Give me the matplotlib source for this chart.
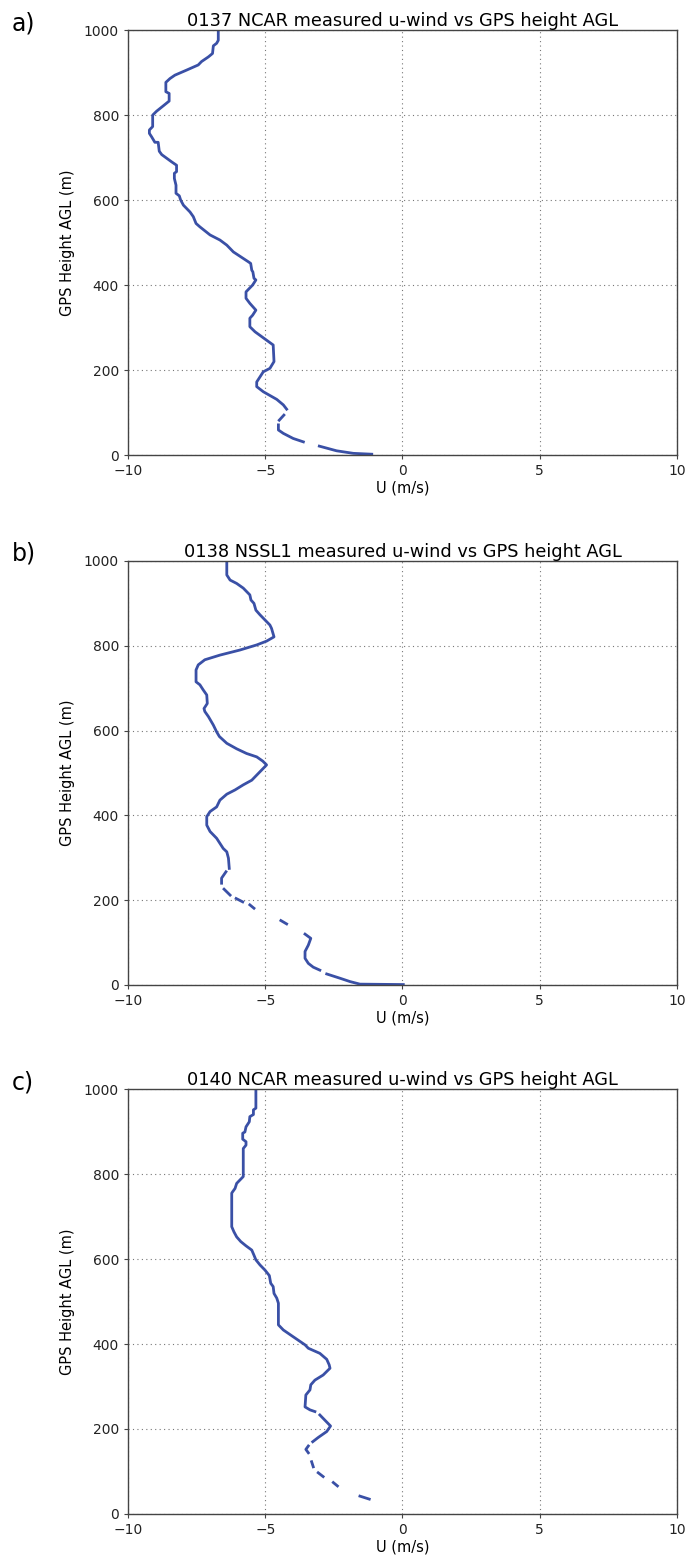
import matplotlib
matplotlib.use('Agg')
import matplotlib.pyplot as plt
import numpy as np

nan = np.nan

# 0137 NCAR
h_a = [1000, 976, 969, 963, 945, 937, 926, 918, 906, 894, 886, 877, 855, 851, 833, 822,
       809, 800, 773, 765, 757, 749, 736, 736, 715, 707, 690, 682, 667, 663, 651, 635,
       616, 610, 600, 588, 572, 561, 545, 537, 518, 506, 494, 478, 455, 451, 435, 431,
       416, 412, 400, 384, 369, 357, 341, 329, 322, 302, 290, 259, 220, 204, 196, 184,
       172, 161, 149, 131, 118, 108, 101, 94, 82, 76, 71, 59, 51, 39, 31, 26, 21, 10, 4, 2]
u_a = [-6.71, -6.71, -6.77, -6.89, -6.92, -7.07, -7.32, -7.44, -7.86, -8.29, -8.47, -8.62,
       -8.62, -8.50, -8.50, -8.71, -8.96, -9.10, -9.10, -9.22, -9.22, -9.14, -9.02, -8.90,
       -8.86, -8.77, -8.41, -8.23, -8.23, -8.31, -8.31, -8.25, -8.25, -8.13, -8.08, -7.98,
       -7.74, -7.62, -7.52, -7.38, -7.01, -6.65, -6.40, -6.16, -5.62, -5.53, -5.49, -5.45,
       -5.41, -5.34, -5.46, -5.70, -5.70, -5.56, -5.34, -5.46, -5.56, -5.56, -5.37, -4.71,
       -4.68, -4.83, -5.07, -5.19, -5.31, -5.31, -5.07, -4.58, -4.34, -4.22, nan, -4.32,
       -4.49, nan, -4.52, -4.52, -4.34, -3.98, -3.61, nan, -3.03, -2.40, -1.79, -1.12]

# 0138 NSSL1
h_b = [1000, 967, 955, 947, 936, 920, 908, 900, 884, 873, 861, 849, 841, 821, 811, 802,
       790, 778, 767, 755, 743, 715, 708, 696, 684, 664, 652, 645, 633, 613, 597, 586,
       570, 557, 546, 538, 528, 519, 507, 495, 483, 472, 460, 450, 436, 420, 409, 397,
       377, 362, 346, 334, 322, 314, 299, 275, 271, 267, 252, 240, 233, 226, 212, 208,
       204, 196, 192, 189, 181, 166, 152, 144, 132, 120, 110, 94, 79, 63, 51, 42, 35, 30,
       26, 16, 8, 2, 1]
u_b = [-6.40, -6.40, -6.28, -6.04, -5.80, -5.56, -5.52, -5.41, -5.34, -5.19, -5.01, -4.83,
       -4.77, -4.68, -4.95, -5.31, -5.92, -6.65, -7.20, -7.44, -7.52, -7.52, -7.38, -7.26,
       -7.13, -7.11, -7.23, -7.20, -7.07, -6.89, -6.77, -6.67, -6.40, -6.04, -5.68, -5.31,
       -5.09, -4.95, -5.13, -5.31, -5.49, -5.80, -6.10, -6.40, -6.65, -6.77, -7.01, -7.13,
       -7.13, -7.01, -6.77, -6.65, -6.53, -6.40, -6.34, -6.31, nan, -6.43, -6.59, -6.59,
       nan, -6.50, -6.28, nan, -6.06, -5.82, nan, -5.56, -5.41, nan, -4.43, -4.22, nan,
       -3.55, -3.34, -3.43, -3.55, -3.55, -3.43, -3.25, -3.01, nan, -2.76, -2.28, -1.91,
       -1.55, 0.03]

# 0140 NCAR
h_c = [1000, 955, 951, 940, 935, 923, 911, 899, 896, 882, 876, 868, 860, 794, 786, 778,
       766, 758, 755, 676, 664, 652, 641, 631, 621, 609, 598, 586, 574, 561, 543, 535,
       519, 508, 496, 445, 433, 417, 398, 390, 378, 364, 351, 343, 327, 315, 304, 292,
       280, 252, 245, 241, 237, 233, 207, 194, 180, 170, 165, 160, 152, 144, 133, 123,
       111, 104, 97, 88, 81, 74, 66, 54, 42, 35]
u_c = [-5.34, -5.34, -5.43, -5.43, -5.56, -5.58, -5.70, -5.74, -5.82, -5.82, -5.70, -5.70,
       -5.80, -5.80, -5.92, -6.04, -6.10, -6.19, -6.22, -6.22, -6.14, -6.04, -5.89, -5.70,
       -5.49, -5.41, -5.34, -5.19, -5.01, -4.85, -4.80, -4.71, -4.68, -4.58, -4.52, -4.52,
       -4.34, -3.98, -3.55, -3.43, -3.01, -2.76, -2.67, -2.64, -2.89, -3.19, -3.34, -3.37,
       -3.52, -3.55, -3.37, -3.19, nan, -3.01, -2.62, -2.76, -3.07, -3.27, nan, -3.43,
       -3.52, -3.43, nan, -3.31, -3.25, nan, -3.07, -2.89, nan, -2.52, -2.37, nan, -1.55,
       -1.21]

titles = ['0137 NCAR measured u-wind vs GPS height AGL',
          '0138 NSSL1 measured u-wind vs GPS height AGL',
          '0140 NCAR measured u-wind vs GPS height AGL']
panel_labels = ['a)', 'b)', 'c)']
profiles = [(u_a, h_a), (u_b, h_b), (u_c, h_c)]

plt.rcParams['font.family'] = ['DejaVu Sans']

fig = plt.figure(figsize=(6.88, 15.6), dpi=100)
# axes boxes in figure fractions (left, bottom, width, height)
boxes = [(0.186, 0.7083, 0.798, 0.2724),
         (0.186, 0.3686, 0.798, 0.2718),
         (0.186, 0.0295, 0.798, 0.2724)]
label_y = [0.985, 0.645, 0.306]

for i in range(3):
    ax = fig.add_axes(boxes[i])
    u, h = profiles[i]
    ax.plot(u, h, color='#3a50a6', linewidth=2)
    ax.set_xlim(-10, 10)
    ax.set_ylim(0, 1000)
    ax.set_xticks([-10, -5, 0, 5, 10])
    ax.set_yticks([0, 200, 400, 600, 800, 1000])
    ax.grid(True, color='#777777', linestyle=(0, (1, 3)), linewidth=0.8)
    for s in ax.spines.values():
        s.set_color('#444444')
        s.set_linewidth(1.0)
    ax.tick_params(direction='out', length=3, labelsize=10, colors='#444444',
                   labelcolor='#222222', top=False, right=False)
    ax.set_title(titles[i], fontsize=12.8, pad=2)
    ax.set_xlabel('U (m/s)', fontsize=10.5, labelpad=2)
    ax.set_ylabel('GPS Height AGL (m)', fontsize=10.5, labelpad=6)
    fig.text(0.017, label_y[i], panel_labels[i], fontsize=17, va='center', ha='left')

fig.savefig('out.png', dpi=100)
